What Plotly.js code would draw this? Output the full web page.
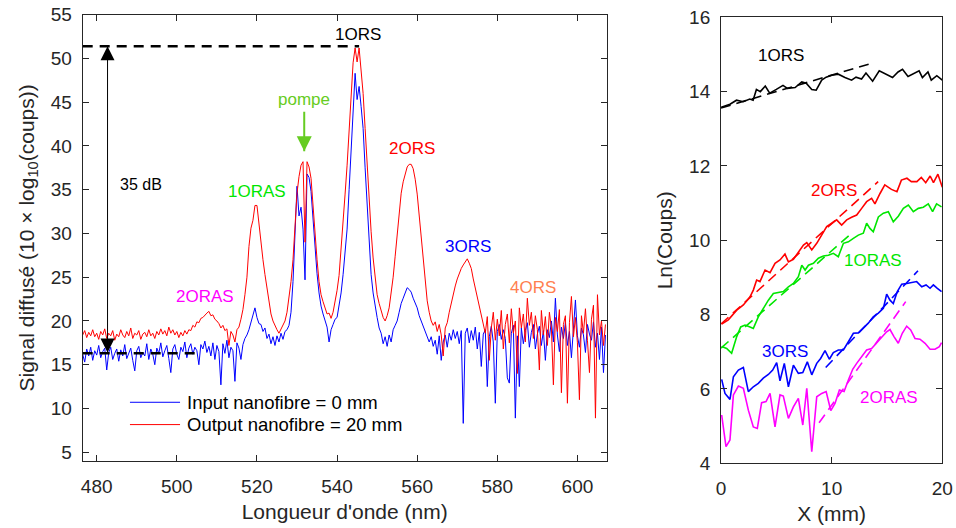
<!DOCTYPE html>
<html>
<head>
<meta charset="utf-8">
<script src="https://cdn.plot.ly/plotly-3.0.1.min.js"></script>
<style>html,body{margin:0;padding:0;background:#fff}#chart{width:956px;height:528px}</style>
</head>
<body>
<div id="chart"></div>
<script>
// ---- Left panel: spectra ----
const wavelength = [
476.5,477.0,477.5,478.0,478.5,479.0,479.5,480.0,480.5,481.0,
481.5,482.0,482.5,483.0,483.5,484.0,484.5,485.0,485.5,486.0,
486.5,487.0,487.5,488.0,488.5,489.0,489.5,490.0,490.5,491.0,
491.5,492.0,492.5,493.0,493.5,494.0,494.5,495.0,495.5,496.0,
496.5,497.0,497.5,498.0,498.5,499.0,499.5,500.0,500.5,501.0,
501.5,502.0,502.5,503.0,503.5,504.0,504.5,505.0,505.5,506.0,
506.5,507.0,507.5,508.0,508.5,509.0,509.5,510.0,510.5,511.0,
511.5,512.0,512.5,513.0,513.5,514.0,514.5,515.0,515.5,516.0,
516.5,517.0,517.5,518.0,518.5,519.0,519.5,520.0,520.5,521.0,
521.5,522.0,522.5,523.0,523.5,524.0,524.5,525.0,525.5,526.0,
526.5,527.0,527.5,528.0,528.5,529.0,529.5,530.0,530.5,531.0,
531.5,532.0,532.5,533.0,533.5,534.0,534.5,535.0,535.5,536.0,
536.5,537.0,537.5,538.0,538.5,539.0,539.5,540.0,540.5,541.0,
541.5,542.0,542.5,543.0,543.5,544.0,544.5,545.0,545.5,546.0,
546.5,547.0,547.5,548.0,548.5,549.0,549.5,550.0,550.5,551.0,
551.5,552.0,552.5,553.0,553.5,554.0,554.5,555.0,555.5,556.0,
556.5,557.0,557.5,558.0,558.5,559.0,559.5,560.0,560.5,561.0,
561.5,562.0,562.5,563.0,563.5,564.0,564.5,565.0,565.5,566.0,
566.5,567.0,567.5,568.0,568.5,569.0,569.5,570.0,570.5,571.0,
571.5,572.0,572.5,573.0,573.5,574.0,574.5,575.0,575.5,576.0,
576.5,577.0,577.5,578.0,578.5,579.0,579.5,580.0,580.5,581.0,
581.5,582.0,582.5,583.0,583.5,584.0,584.5,585.0,585.5,586.0,
586.5,587.0,587.5,588.0,588.5,589.0,589.5,590.0,590.5,591.0,
591.5,592.0,592.5,593.0,593.5,594.0,594.5,595.0,595.5,596.0,
596.5,597.0,597.5,598.0,598.5,599.0,599.5,600.0,600.5,601.0,
601.5,602.0,602.5,603.0,603.5,604.0,604.5,605.0,605.5,606.0,
606.5,607.0];

const inputSignal = [
16.2,15.3,16.8,16.0,17.0,15.5,16.6,16.1,17.2,15.8,
16.5,16.9,14.4,16.4,17.0,15.6,16.3,16.8,15.4,16.7,
16.0,17.3,15.7,16.4,16.9,15.5,14.3,16.6,17.1,15.8,
16.4,16.0,17.4,15.6,16.8,16.2,15.0,16.9,16.3,17.5,
15.9,16.6,17.2,15.7,14.1,16.8,17.3,16.2,15.6,17.0,
16.5,17.6,15.8,16.9,17.4,16.2,17.0,16.6,15.0,17.3,
16.8,17.7,16.4,17.1,16.0,17.5,15.6,17.2,16.5,12.7,
17.4,16.3,17.8,15.8,17.0,16.6,13.1,17.5,16.9,15.6,
17.3,18.0,18.4,19.0,19.9,20.8,21.5,20.4,19.7,19.6,
18.8,19.2,18.0,18.5,17.4,18.2,17.2,18.3,17.6,18.6,
17.9,18.8,19.0,19.5,21.0,24.5,31.0,35.4,32.0,33.0,
30.5,24.7,36.8,36.4,34.8,31.5,28.0,25.4,23.2,21.7,
20.8,20.1,19.3,17.6,19.0,19.6,20.2,20.4,21.6,23.2,
25.3,27.5,30.5,35.0,40.0,45.0,48.3,45.3,46.8,44.5,
42.0,37.5,33.0,28.5,25.3,23.2,21.5,20.4,19.2,18.6,
17.4,18.2,17.1,18.4,17.6,19.0,19.5,20.0,21.0,22.0,
22.6,23.2,23.8,23.6,23.3,22.6,22.0,21.5,20.6,20.0,
19.3,18.6,18.0,17.6,18.2,17.1,17.8,16.2,18.3,15.5,
17.6,18.4,17.0,18.6,17.8,19.0,18.0,18.8,17.4,18.9,
8.3,18.6,19.2,17.5,18.9,17.8,19.3,16.8,18.7,14.8,
18.5,19.0,12.5,18.2,19.4,17.6,10.6,18.8,19.6,17.9,
19.0,18.0,13.5,12.9,18.6,19.5,8.9,18.3,12.5,19.2,
17.4,18.9,19.8,17.0,18.7,19.6,16.8,18.5,19.4,17.2,
18.9,15.5,19.0,18.1,20.0,17.6,22.6,18.4,16.5,19.3,
18.0,19.8,17.2,18.8,15.8,19.5,22.4,18.3,17.0,19.2,
18.4,16.4,19.6,18.5,17.8,19.9,17.0,18.6,15.6,19.3,
14.1,18.4];

const outputSignal = [
18.4,18.9,18.1,18.7,18.3,19.0,18.2,18.6,17.9,18.8,
18.4,19.1,18.0,18.6,18.3,18.9,17.8,18.5,18.2,19.0,
18.4,18.1,18.8,18.3,19.2,18.0,18.6,18.4,18.9,17.9,
18.5,18.7,18.2,19.0,18.3,18.6,18.0,18.8,18.4,19.1,
18.5,18.9,18.3,19.3,18.6,19.0,18.4,18.8,18.1,18.7,
18.3,18.9,18.5,19.0,18.9,19.5,19.3,19.9,19.8,20.3,
20.4,20.7,20.9,21.1,20.6,20.7,20.2,20.0,19.7,19.2,
19.5,18.9,19.1,17.2,18.8,18.4,17.6,19.0,19.3,20.2,
21.3,23.0,25.0,28.5,30.6,31.5,33.2,33.2,31.0,28.6,
27.0,25.3,23.7,22.3,20.8,20.0,19.4,19.0,18.6,19.1,
19.5,20.0,21.0,22.8,24.5,27.0,31.5,34.6,36.5,37.8,
38.2,29.0,38.2,37.6,36.3,33.0,29.5,27.0,24.5,23.0,
22.2,21.4,20.8,20.9,20.3,21.0,22.2,23.5,25.2,28.0,
31.5,34.5,37.8,41.5,45.5,49.5,51.2,49.6,51.2,49.0,
46.0,42.0,37.5,33.5,30.2,27.2,24.8,23.0,22.0,21.2,
20.4,20.0,20.6,21.5,23.0,25.0,27.4,30.0,32.5,34.6,
35.9,36.9,37.6,37.9,37.9,37.4,36.2,34.5,32.0,29.6,
27.0,24.3,22.3,21.0,20.0,19.5,19.9,18.8,19.6,18.4,
16.0,19.2,19.8,21.0,22.0,23.3,24.0,24.8,25.5,26.0,
26.4,26.8,27.1,26.6,26.0,24.8,23.8,22.6,21.5,20.6,
19.8,18.6,20.5,15.5,19.2,21.0,17.8,20.2,18.3,21.2,
16.8,19.6,20.8,17.5,21.4,18.6,20.0,14.0,21.5,19.2,
20.8,17.6,22.6,19.5,21.0,18.0,20.6,19.0,14.4,21.2,
18.4,20.5,17.2,21.0,19.2,12.7,20.4,18.8,21.3,11.8,
19.6,20.6,10.6,19.8,22.8,18.2,20.4,17.5,11.0,20.6,
18.6,21.4,17.8,14.1,20.2,21.8,8.9,23.0,18.4,20.0,
17.2,19.6];

const seriesNames = ['Input nanofibre = 0 mm', 'Output nanofibre = 20 mm'];

// reference levels of the 35 dB gain marker
const levelTopX = [476.5, 545.5];
const levelTopY = [51.4, 51.4];
const levelBottomX = [476.5, 505.3];
const levelBottomY = [16.3, 16.3];
// 35 dB double arrow and pump arrow (stem end points, tip positions)
const gainArrowX = [482.7, 482.7];
const gainArrowY = [51.4, 16.4];
const pumpArrowX = [531.8, 531.8];
const pumpArrowY = [43.9, 39.4];
// legend sample lines (in the left panel's data units)
const legendLineX = [488.3, 500.8];
const legendRowY = [10.71, 8.16];
const legendTextX = 502.0;

// ---- Right panel: Ln(Coups) vs X ----
const x1ORS = [0,0.81,1.4,2.0,2.6,2.9,3.2,3.55,4.0,4.4,5.0,5.6,6.0,6.7,7.3,7.7,8.2,8.6,9.1,9.5,10.0,10.6,11.2,11.8,12.2,12.7,13.1,13.7,14.3,14.9,15.5,16.0,16.4,16.9,17.3,17.9,18.2,18.7,19.0,19.5,20.0];
const y1ORS = [13.58,13.66,13.77,13.73,13.80,13.77,14.06,14.0,14.15,13.96,14.06,14.17,14.09,14.11,14.26,14.23,14.06,14.04,14.31,14.39,14.44,14.47,14.38,14.31,14.39,14.34,14.5,14.28,14.56,14.47,14.38,14.53,14.6,14.41,14.47,14.56,14.38,14.53,14.31,14.43,14.31];

const x2ORS = [0.06,0.66,1.42,2.02,2.62,2.92,3.22,3.52,3.98,4.43,4.88,5.33,5.78,6.09,6.54,7.0,7.45,7.75,8.2,8.65,9.1,9.55,10.0,10.45,10.9,11.36,11.8,12.26,12.71,13.16,13.61,13.91,14.37,14.8,15.4,15.9,16.3,16.8,17.2,17.7,18.1,18.5,18.9,19.2,19.6,20.0];
const y2ORS = [7.75,7.86,8.12,8.26,8.48,8.66,8.93,8.89,9.2,9.13,9.38,9.47,9.63,9.42,9.49,9.69,9.87,9.94,9.74,9.92,10.14,10.37,10.46,10.55,10.41,10.55,10.62,10.68,10.86,11.04,11.13,10.98,11.26,11.49,11.37,11.31,11.62,11.67,11.58,11.58,11.69,11.55,11.73,11.55,11.78,11.43];

const x1ORAS = [0.06,0.51,0.96,1.42,1.78,2.17,2.62,2.92,3.37,3.82,4.28,4.73,5.18,5.63,6.09,6.54,6.99,7.3,7.6,7.9,8.35,8.8,9.25,9.7,10.15,10.6,11.06,11.51,11.96,12.41,12.86,13.16,13.46,13.76,14.22,14.67,15.12,15.57,16.02,16.48,16.93,17.38,17.83,18.28,18.73,19.12,19.48,19.93];
const y1ORAS = [7.14,7.09,6.96,7.41,7.67,7.72,7.67,7.63,7.94,8.17,8.39,8.57,8.59,8.62,8.75,8.84,9.02,9.33,9.2,9.33,9.38,9.52,9.58,9.6,9.65,9.56,9.92,9.96,10.05,10.14,10.19,10.46,10.32,10.23,10.63,10.73,10.77,10.5,10.65,10.86,10.95,10.77,10.86,10.89,10.98,10.77,10.98,10.9];

const x3ORS = [0.06,0.36,0.81,1.12,1.57,2.02,2.47,2.92,3.37,3.82,4.28,4.67,5.03,5.33,5.72,6.09,6.54,6.99,7.39,7.8,8.2,8.65,9.0,9.4,9.79,10.15,10.6,11.06,11.51,11.96,12.41,12.86,13.31,13.76,14.22,14.67,14.97,15.27,15.57,15.93,16.33,16.78,17.23,17.68,18.14,18.53,18.89,19.19,19.55,19.93];
const y3ORS = [6.26,5.88,5.72,6.33,6.51,6.58,5.93,6.06,6.15,6.29,6.39,6.51,6.71,6.22,6.69,6.06,6.64,6.42,6.44,6.73,6.38,6.69,6.82,7.03,6.80,6.98,7.05,7.05,7.27,7.50,7.51,7.63,7.77,7.94,8.04,8.17,8.55,8.39,8.30,8.62,8.82,8.84,8.86,8.89,8.75,8.80,8.71,8.80,8.71,8.62];

const x2ORAS = [0.06,0.45,0.81,1.12,1.57,2.02,2.47,2.92,3.28,3.67,4.07,4.43,4.88,5.33,5.63,6.09,6.54,6.99,7.39,7.75,8.2,8.65,9.1,9.5,9.92,10.3,10.7,11.12,11.51,11.9,12.26,12.71,13.16,13.61,14.07,14.52,14.97,15.27,15.63,16.02,16.38,16.78,17.14,17.53,17.98,18.44,18.89,19.34,19.73,19.93];
const y2ORAS = [5.30,4.45,4.63,5.84,6.08,6.02,5.43,4.98,4.94,5.63,5.66,5.88,4.98,5.84,5.81,5.21,5.52,5.75,5.03,6.02,4.31,5.79,5.88,5.93,5.42,5.61,5.97,5.93,6.24,6.53,6.69,6.87,7.05,7.09,7.23,7.39,7.54,7.60,7.41,7.23,7.50,7.69,7.59,7.36,7.34,7.23,7.07,7.07,7.14,7.25];

// linear fits (end points)
const fit1ORSx = [0, 13.8],    fit1ORSy = [13.56, 14.78];
const fit2ORSx = [0, 14.2],    fit2ORSy = [7.75, 11.58];
const fit1ORASx = [0, 11.8],   fit1ORASy = [7.1, 10.19];
const fit3ORSx = [9.46, 17.8], fit3ORSy = [6.58, 9.18];
const fit2ORASx = [8.86, 16.69], fit2ORASy = [5.09, 8.35];

const C = {blue:'#0000ff', red:'#ff0000', green:'#00e600', magenta:'#ff00ff', black:'#000000', pompe:'#66cc22', orange:'#ff7f4f'};
const FONT = 'Liberation Sans, Arial, Helvetica, sans-serif';

function solid(x, y, color, xa, ya, w){return {x:x, y:y, xaxis:xa, yaxis:ya, mode:'lines', line:{color:color, width:w||1.6}, showlegend:false, hoverinfo:'skip'};}
function dashed(x, y, color, xa, ya, w, d){return {x:x, y:y, xaxis:xa, yaxis:ya, mode:'lines', line:{color:color, width:w||1.6, dash:d||'10px,6px'}, showlegend:false, hoverinfo:'skip'};}
function heads(x, y, symbols, color, size){return {x:x, y:y, xaxis:'x', yaxis:'y', mode:'markers', marker:{symbol:symbols, size:size, color:color, line:{width:0}}, showlegend:false, hoverinfo:'skip'};}

const traces = [
  {x:wavelength, y:inputSignal, xaxis:'x', yaxis:'y', mode:'lines', line:{color:C.blue, width:1}, name:seriesNames[0], showlegend:false},
  {x:wavelength, y:outputSignal, xaxis:'x', yaxis:'y', mode:'lines', line:{color:C.red, width:1}, name:seriesNames[1], showlegend:false},
  solid(legendLineX, [legendRowY[0], legendRowY[0]], C.blue, 'x', 'y', 1),
  solid(legendLineX, [legendRowY[1], legendRowY[1]], C.red, 'x', 'y', 1),
  dashed(levelTopX, levelTopY, C.black, 'x', 'y', 2.5, '10px,7px'),
  dashed(levelBottomX, levelBottomY, C.black, 'x', 'y', 2.5, '10px,7px'),
  solid(gainArrowX, gainArrowY, C.black, 'x', 'y', 1),
  heads(gainArrowX, gainArrowY, ['arrow-up','arrow-down'], C.black, 14),
  solid(pumpArrowX, pumpArrowY, C.pompe, 'x', 'y', 2),
  heads([pumpArrowX[1]], [pumpArrowY[1]], ['arrow-down'], C.pompe, 15),
  solid(x1ORS, y1ORS, C.black, 'x2', 'y2'),
  solid(x2ORS, y2ORS, C.red, 'x2', 'y2'),
  solid(x1ORAS, y1ORAS, C.green, 'x2', 'y2'),
  solid(x3ORS, y3ORS, C.blue, 'x2', 'y2'),
  solid(x2ORAS, y2ORAS, C.magenta, 'x2', 'y2'),
  dashed(fit1ORSx, fit1ORSy, C.black, 'x2', 'y2'),
  dashed(fit2ORSx, fit2ORSy, C.red, 'x2', 'y2'),
  dashed(fit1ORASx, fit1ORASy, C.green, 'x2', 'y2'),
  dashed(fit3ORSx, fit3ORSy, C.blue, 'x2', 'y2'),
  dashed(fit2ORASx, fit2ORASy, C.magenta, 'x2', 'y2')
];

function axis(extra){
  return Object.assign({
    ticks:'inside', ticklen:6, tickwidth:1, tickcolor:'#262626',
    showline:true, linecolor:'#262626', linewidth:1, mirror:'ticks',
    showgrid:false, zeroline:false, fixedrange:true,
    tickfont:{family:FONT, size:19, color:'#262626'}
  }, extra);
}

function lbl(x, y, text, color, xref, yref, size, anchor){
  return {x:x, y:y, xref:xref||'x', yref:yref||'y', text:text, showarrow:false,
          font:{family:FONT, size:size||17, color:color}, xanchor:anchor||'center', yanchor:'middle'};
}

const annotations = [
  lbl(545.2, 52.7, '1ORS', C.black),
  lbl(531.8, 45.3, 'pompe', C.pompe),
  lbl(558.7, 39.7, '2ORS', C.red),
  lbl(572.7, 28.5, '3ORS', C.blue),
  lbl(520.0, 34.8, '1ORAS', C.green),
  lbl(507.0, 22.8, '2ORAS', C.magenta),
  lbl(588.9, 23.8, '4ORS', C.orange),
  lbl(491.1, 35.6, '35 dB', C.black, 'x', 'y', 16),
  lbl(legendTextX, legendRowY[0], seriesNames[0], '#000', 'x', 'y', 18.5, 'left'),
  lbl(legendTextX, legendRowY[1], seriesNames[1], '#000', 'x', 'y', 18.5, 'left'),
  lbl(5.42, 14.98, '1ORS', C.black, 'x2', 'y2'),
  lbl(10.2, 11.35, '2ORS', C.red, 'x2', 'y2'),
  lbl(13.74, 9.47, '1ORAS', C.green, 'x2', 'y2'),
  lbl(5.78, 7.0, '3ORS', C.blue, 'x2', 'y2'),
  lbl(15.18, 5.76, '2ORAS', C.magenta, 'x2', 'y2')
];

const layout = {
  width:956, height:528,
  margin:{l:0, r:0, t:0, b:0},
  paper_bgcolor:'#ffffff', plot_bgcolor:'#ffffff',
  font:{family:FONT, color:'#262626'},
  showlegend:false,
  xaxis: axis({domain:[0.0865,0.6346], range:[476.5,607.3], anchor:'y',
               tickvals:[480,500,520,540,560,580,600], ticklabelstandoff:8,
               title:{text:"Longueur d'onde (nm)", font:{family:FONT, size:21, color:'#262626'}, standoff:8}}),
  yaxis: axis({domain:[0.1269,0.9722], range:[4,55], anchor:'x',
               tickvals:[5,10,15,20,25,30,35,40,45,50,55], ticklabelstandoff:6,
               title:{text:'Signal diffusé (10 × log<sub>10</sub>(coups))', font:{family:FONT, size:21, color:'#262626'}, standoff:10}}),
  xaxis2: axis({domain:[0.7542,0.9857], range:[0,20], anchor:'y2',
               tickvals:[0,10,20], ticklabelstandoff:8,
               title:{text:'X (mm)', font:{family:FONT, size:21, color:'#262626'}, standoff:8}}),
  yaxis2: axis({domain:[0.1225,0.9672], range:[4,16], anchor:'x2',
               tickvals:[4,6,8,10,12,14,16], ticklabelstandoff:6,
               title:{text:'Ln(Coups)', font:{family:FONT, size:21, color:'#262626'}, standoff:10}}),
  annotations:annotations
};

Plotly.newPlot('chart', traces, layout, {displayModeBar:false, staticPlot:true});
</script>
</body>
</html>
